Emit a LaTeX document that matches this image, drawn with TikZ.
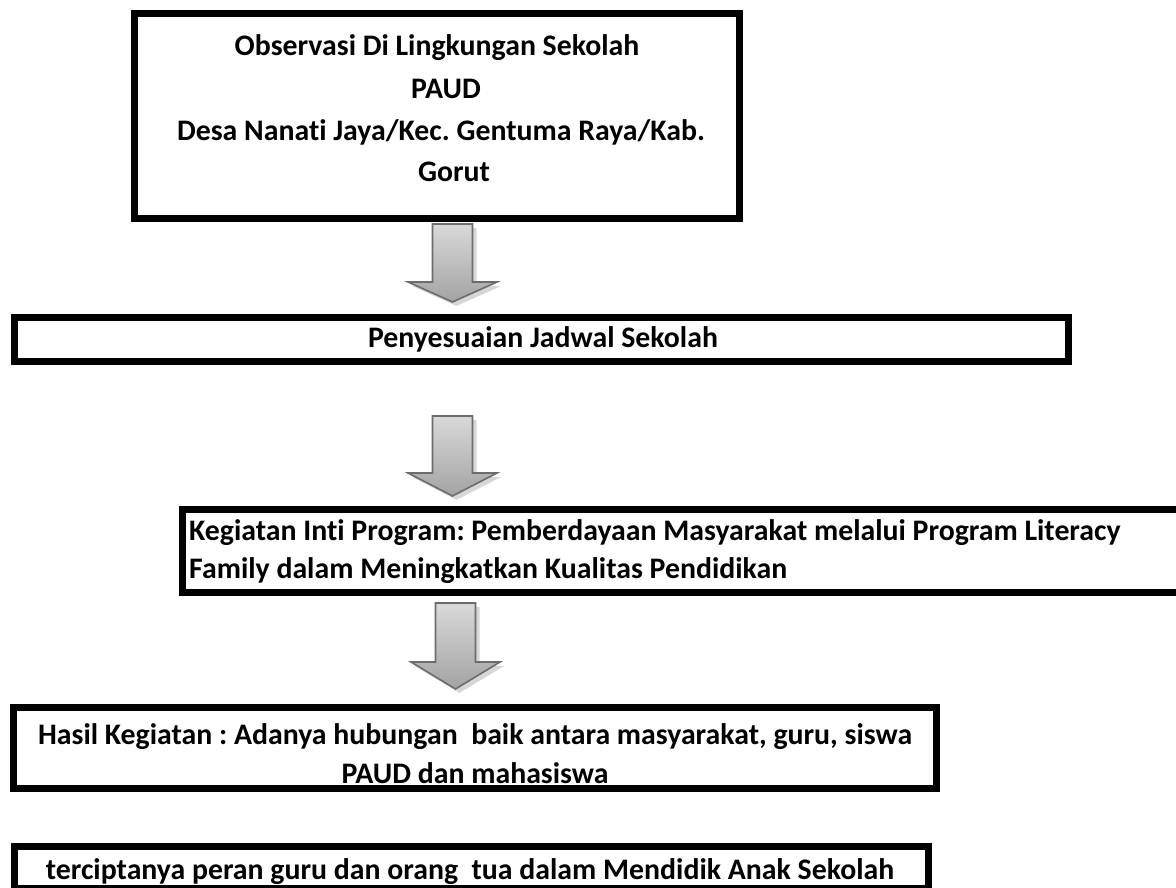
\documentclass[tikz,border=0pt]{standalone}
\usepackage{fontspec}
\setmainfont{Carlito}[Ligatures=NoCommon]
\frenchspacing
\begin{document}
\begin{tikzpicture}[x=1pt,y=-1pt,
  boxst/.style={draw=black, line width=7pt, inner sep=0pt, outer sep=0pt},
  txt/.style={font=\fontsize{29.8}{40}\selectfont\bfseries, inner sep=0pt, anchor=base},
  txtl/.style={txt, anchor=base west},
  arrowshade/.style={draw=gray!85!black, line width=1.6pt, line join=miter,
     left color=gray!30, right color=gray!72, shading angle=0},
  arrowshadow/.style={fill=black!35, opacity=0.45}
]
\useasboundingbox (0,0) rectangle (1176,888);
\begin{scope}
\clip (0,0) rectangle (1176,888);
% boxes
\node[boxst, minimum width=605, minimum height=205] (obs) at (437,116) {};
\node[boxst, minimum width=1054, minimum height=44] (jadwal) at (541.5,339.5) {};
\node[boxst, minimum width=1004, minimum height=83] (inti) at (684.5,551) {};
\node[boxst, minimum width=923, minimum height=81] (hasil) at (475,748) {};
\node[boxst, minimum width=914, minimum height=42] (peran) at (471.5,867.5) {};
% texts
\node[txt] (obs1) at (437,56) {Observasi Di Lingkungan Sekolah};
\node[txt] (obs2) at (446,99) {PAUD};
\node[txt] (obs3) at (441,141) {Desa Nanati Jaya/Kec. Gentuma Raya/Kab.};
\node[txt] (obs4) at (454,182) {Gorut};
\node[txt] (jad1) at (543,347) {Penyesuaian Jadwal Sekolah};
\node[txtl] (inti1) at (189,540) {Kegiatan Inti Program: Pemberdayaan Masyarakat melalui Program Literacy};
\node[txtl] (inti2) at (189,578) {Family dalam Meningkatkan Kualitas Pendidikan};
\node[txt] (has1) at (475,744) {Hasil Kegiatan : Adanya hubungan\ \ baik antara masyarakat, guru, siswa};
\node[txt] (has2) at (475,783) {PAUD dan mahasiswa};
\node[txt] (per1) at (470,879) {terciptanya peran guru dan orang\ \ tua dalam Mendidik Anak Sekolah};
% block arrows
\newcommand{\blockdown}[4]{%
  \fill[arrowshadow] (#1-20+4,#2+4) -- (#1+20+4,#2+4) -- (#1+20+4,#3+4) -- (#1+44.5+4,#3+4) -- (#1+4,#4+4) -- (#1-44.5+4,#3+4) -- (#1-20+4,#3+4) -- cycle;
  \shade[arrowshade] (#1-20,#2) -- (#1+20,#2) -- (#1+20,#3) -- (#1+44.5,#3) -- (#1,#4) -- (#1-44.5,#3) -- (#1-20,#3) -- cycle;
}
\blockdown{452.5}{224}{282}{302}
\blockdown{452.5}{416}{473}{496}
\blockdown{455.5}{603}{662}{689}
\end{scope}
\end{tikzpicture}
\end{document}
